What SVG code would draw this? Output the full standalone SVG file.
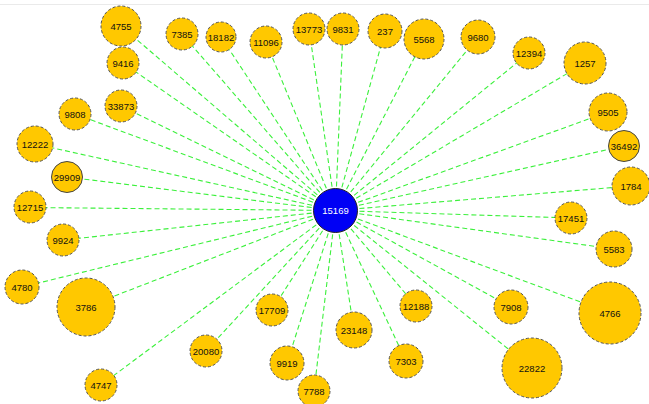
<svg xmlns="http://www.w3.org/2000/svg" width="649" height="404" viewBox="0 0 649 404">
<style>
.e{stroke:#3cf03c;stroke-width:1.1;stroke-dasharray:5 3;fill:none}
.n circle{fill:#ffc800;stroke:#555;stroke-width:1;stroke-dasharray:3 2}
.n circle.s{stroke-dasharray:none;stroke:#444}
text{font-family:"Liberation Sans",Arial,sans-serif;font-size:9.5px;text-anchor:middle;dominant-baseline:central;fill:#111}
#c circle{fill:#0000f5;stroke:#222;stroke-width:1}
#c text{fill:#fff}
</style>
<rect width="649" height="404" fill="#fff"/>
<line x1="0" y1="4.5" x2="649" y2="4.5" stroke="#eaeaea" stroke-width="1"/>
<g id="edges">
<line class="e" x1="335.5" y1="210.5" x2="121" y2="26"/>
<line class="e" x1="335.5" y1="210.5" x2="182" y2="34"/>
<line class="e" x1="335.5" y1="210.5" x2="221" y2="37"/>
<line class="e" x1="335.5" y1="210.5" x2="266" y2="42"/>
<line class="e" x1="335.5" y1="210.5" x2="309" y2="29"/>
<line class="e" x1="335.5" y1="210.5" x2="343" y2="29"/>
<line class="e" x1="335.5" y1="210.5" x2="385" y2="31"/>
<line class="e" x1="335.5" y1="210.5" x2="424" y2="39"/>
<line class="e" x1="335.5" y1="210.5" x2="478" y2="37"/>
<line class="e" x1="335.5" y1="210.5" x2="529" y2="53"/>
<line class="e" x1="335.5" y1="210.5" x2="585" y2="63"/>
<line class="e" x1="335.5" y1="210.5" x2="123" y2="63"/>
<line class="e" x1="335.5" y1="210.5" x2="121" y2="106"/>
<line class="e" x1="335.5" y1="210.5" x2="75" y2="114"/>
<line class="e" x1="335.5" y1="210.5" x2="35" y2="144"/>
<line class="e" x1="335.5" y1="210.5" x2="67" y2="177"/>
<line class="e" x1="335.5" y1="210.5" x2="30" y2="207.5"/>
<line class="e" x1="335.5" y1="210.5" x2="63" y2="240"/>
<line class="e" x1="335.5" y1="210.5" x2="22" y2="287"/>
<line class="e" x1="335.5" y1="210.5" x2="86" y2="307"/>
<line class="e" x1="335.5" y1="210.5" x2="101" y2="385"/>
<line class="e" x1="335.5" y1="210.5" x2="206" y2="351"/>
<line class="e" x1="335.5" y1="210.5" x2="272" y2="310"/>
<line class="e" x1="335.5" y1="210.5" x2="287" y2="363"/>
<line class="e" x1="335.5" y1="210.5" x2="314" y2="391"/>
<line class="e" x1="335.5" y1="210.5" x2="354" y2="330"/>
<line class="e" x1="335.5" y1="210.5" x2="406" y2="361"/>
<line class="e" x1="335.5" y1="210.5" x2="416" y2="306"/>
<line class="e" x1="335.5" y1="210.5" x2="511" y2="307"/>
<line class="e" x1="335.5" y1="210.5" x2="532" y2="368"/>
<line class="e" x1="335.5" y1="210.5" x2="610" y2="313"/>
<line class="e" x1="335.5" y1="210.5" x2="614" y2="249"/>
<line class="e" x1="335.5" y1="210.5" x2="571" y2="218"/>
<line class="e" x1="335.5" y1="210.5" x2="631" y2="186"/>
<line class="e" x1="335.5" y1="210.5" x2="624" y2="146"/>
<line class="e" x1="335.5" y1="210.5" x2="608" y2="112"/>
</g>
<g id="n4755" class="n"><circle cx="121" cy="26" r="20"/><text x="121" y="26">4755</text></g>
<g id="n7385" class="n"><circle cx="182" cy="34" r="16"/><text x="182" y="34">7385</text></g>
<g id="n18182" class="n"><circle cx="221" cy="37" r="15"/><text x="221" y="37">18182</text></g>
<g id="n11096" class="n"><circle cx="266" cy="42" r="16"/><text x="266" y="42">11096</text></g>
<g id="n13773" class="n"><circle cx="309" cy="29" r="16"/><text x="309" y="29">13773</text></g>
<g id="n9831" class="n"><circle cx="343" cy="29" r="16"/><text x="343" y="29">9831</text></g>
<g id="n237" class="n"><circle cx="385" cy="31" r="17"/><text x="385" y="31">237</text></g>
<g id="n5568" class="n"><circle cx="424" cy="39" r="20"/><text x="424" y="39">5568</text></g>
<g id="n9680" class="n"><circle cx="478" cy="37" r="17"/><text x="478" y="37">9680</text></g>
<g id="n12394" class="n"><circle cx="529" cy="53" r="16"/><text x="529" y="53">12394</text></g>
<g id="n1257" class="n"><circle cx="585" cy="63" r="21"/><text x="585" y="63">1257</text></g>
<g id="n9416" class="n"><circle cx="123" cy="63" r="16"/><text x="123" y="63">9416</text></g>
<g id="n33873" class="n"><circle cx="121" cy="106" r="16"/><text x="121" y="106">33873</text></g>
<g id="n9808" class="n"><circle cx="75" cy="114" r="16"/><text x="75" y="114">9808</text></g>
<g id="n12222" class="n"><circle cx="35" cy="144" r="18"/><text x="35" y="144">12222</text></g>
<g id="n29909" class="n"><circle class="s" cx="67" cy="177" r="15.5"/><text x="67" y="177">29909</text></g>
<g id="n12715" class="n"><circle cx="30" cy="207" r="16"/><text x="30" y="207">12715</text></g>
<g id="n9924" class="n"><circle cx="63" cy="240" r="16"/><text x="63" y="240">9924</text></g>
<g id="n4780" class="n"><circle cx="22" cy="287" r="17"/><text x="22" y="287">4780</text></g>
<g id="n3786" class="n"><circle cx="86" cy="307" r="29"/><text x="86" y="307">3786</text></g>
<g id="n4747" class="n"><circle cx="101" cy="385" r="16"/><text x="101" y="385">4747</text></g>
<g id="n20080" class="n"><circle cx="206" cy="351" r="16"/><text x="206" y="351">20080</text></g>
<g id="n17709" class="n"><circle cx="272" cy="310" r="16"/><text x="272" y="310">17709</text></g>
<g id="n9919" class="n"><circle cx="287" cy="363" r="17"/><text x="287" y="363">9919</text></g>
<g id="n7788" class="n"><circle cx="314" cy="391" r="16"/><text x="314" y="391">7788</text></g>
<g id="n23148" class="n"><circle cx="354" cy="330" r="18"/><text x="354" y="330">23148</text></g>
<g id="n7303" class="n"><circle cx="406" cy="361" r="17"/><text x="406" y="361">7303</text></g>
<g id="n12188" class="n"><circle cx="416" cy="306" r="16"/><text x="416" y="306">12188</text></g>
<g id="n7908" class="n"><circle cx="511" cy="307" r="17"/><text x="511" y="307">7908</text></g>
<g id="n22822" class="n"><circle cx="532" cy="368" r="30"/><text x="532" y="368">22822</text></g>
<g id="n4766" class="n"><circle cx="610" cy="313" r="31"/><text x="610" y="313">4766</text></g>
<g id="n5583" class="n"><circle cx="614" cy="249" r="18"/><text x="614" y="249">5583</text></g>
<g id="n17451" class="n"><circle cx="571" cy="218" r="16"/><text x="571" y="218">17451</text></g>
<g id="n1784" class="n"><circle cx="631" cy="186" r="19"/><text x="631" y="186">1784</text></g>
<g id="n36492" class="n"><circle class="s" cx="624" cy="146" r="15.5"/><text x="624" y="146">36492</text></g>
<g id="n9505" class="n"><circle cx="608" cy="112" r="19"/><text x="608" y="112">9505</text></g>
<g id="c"><circle cx="335.5" cy="210.5" r="22"/><text x="335.5" y="210.5">15169</text></g>
</svg>
